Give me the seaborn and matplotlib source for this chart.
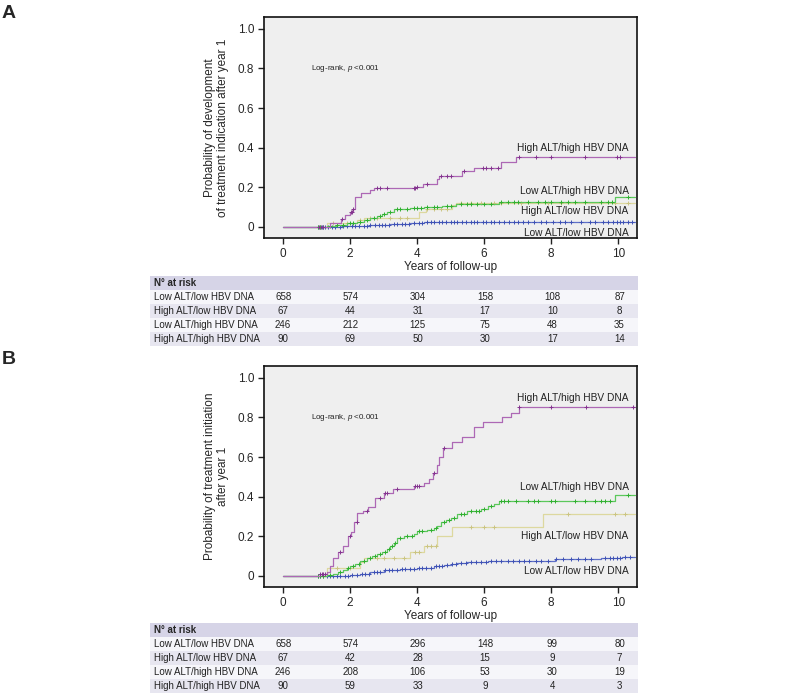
import numpy as np
import pandas as pd
import seaborn as sns
import matplotlib.pyplot as plt

# グループ名
groups = ["Low ALT/low HBV DNA", "High ALT/low HBV DNA", "Low ALT/high HBV DNA", "High ALT/high HBV DNA"]
risk_years = [0, 2, 4, 6, 8, 10]

# パネルA: 治療適応の発生
a_t_ll = [0, 1.2, 1.5, 1.8, 2.0, 2.3, 2.6, 2.9, 3.2, 3.5, 3.8, 4.0, 4.2]
a_y_ll = [0, 0.001, 0.002, 0.003, 0.004, 0.007, 0.010, 0.012, 0.014, 0.016, 0.018, 0.021, 0.024]
a_c_ll = [1.05, 1.1, 1.15, 1.25, 1.35, 1.45, 1.55, 1.7, 1.8, 1.9, 2.05, 2.15, 2.25, 2.4, 2.5, 2.6, 2.75,
          2.85, 2.95, 3.05, 3.15, 3.3, 3.4, 3.55, 3.65, 3.75, 3.9, 4.05, 4.15, 4.3, 4.4, 4.5, 4.65, 4.75,
          4.85, 5.0, 5.1, 5.2, 5.35, 5.45, 5.6, 5.7, 5.8, 5.95, 6.05, 6.2, 6.3, 6.45, 6.6, 6.75, 6.9,
          7.0, 7.15, 7.3, 7.5, 7.7, 7.85, 8.05, 8.25, 8.4, 8.6, 8.9, 9.15, 9.3, 9.55, 9.7, 9.85, 9.95,
          10.05, 10.15, 10.3, 10.4]
a_t_hl = [0, 1.3, 2.2, 2.4, 4.06, 4.26, 5.05, 5.15]
a_y_hl = [0, 0.019, 0.035, 0.045, 0.075, 0.088, 0.110, 0.123]
a_c_hl = [1.1, 1.5, 1.9, 2.3, 2.6, 2.8, 3.2, 3.5, 3.7, 4.3, 4.5, 4.7, 4.9, 5.3, 5.6, 5.9, 6.3, 6.5,
          7.1, 7.9, 8.3, 9.9, 10.3]
a_t_lh = [0, 1.3, 1.6, 1.9, 2.2, 2.4, 2.6, 2.8, 2.95, 3.1, 3.3, 3.8, 4.2, 4.75, 5.15, 6.45, 9.9]
a_y_lh = [0, 0.005, 0.010, 0.018, 0.027, 0.035, 0.045, 0.055, 0.065, 0.077, 0.090, 0.095, 0.099,
          0.105, 0.116, 0.127, 0.153]
a_c_lh = [1.05, 1.1, 1.2, 1.4, 1.6, 1.8, 2.0, 2.1, 2.3, 2.5, 2.7, 2.9, 3.0, 3.2, 3.4, 3.5, 3.7, 3.9,
          4.0, 4.1, 4.3, 4.5, 4.6, 4.9, 5.0, 5.3, 5.5, 5.6, 5.8, 6.0, 6.2, 6.5, 6.7, 6.9, 7.0, 7.3,
          7.6, 7.8, 8.0, 8.3, 8.5, 8.7, 9.0, 9.5, 9.7, 9.8, 10.3]
a_t_hh = [0, 1.4, 1.73, 1.85, 2.0, 2.08, 2.15, 2.33, 2.58, 2.72, 3.96, 4.16, 4.6, 4.66, 5.35, 5.7, 6.5, 6.94]
a_y_hh = [0, 0.020, 0.040, 0.060, 0.075, 0.090, 0.150, 0.170, 0.185, 0.195, 0.200, 0.215, 0.240,
          0.255, 0.280, 0.300, 0.330, 0.355]
a_c_hh = [1.08, 1.12, 1.18, 1.75, 2.02, 2.06, 2.1, 2.8, 2.9, 3.1, 3.9, 3.95, 4.0, 4.3, 4.7, 4.9, 5.0,
          5.4, 5.95, 6.05, 6.2, 6.4, 7.05, 7.55, 8.0, 9.0, 9.95, 10.05]
a_risk = [[658, 574, 304, 158, 108, 87],
          [67, 44, 31, 17, 10, 8],
          [246, 212, 125, 75, 48, 35],
          [90, 69, 50, 30, 17, 14]]

# パネルB: 治療開始
b_t_ll = [0, 1.5, 2.0, 2.3, 2.6, 3.0, 3.5, 4.0, 4.5, 4.8, 5.0, 5.2, 5.5, 6.1, 6.3, 8.1, 9.5, 10.1]
b_y_ll = [0, 0.002, 0.005, 0.010, 0.020, 0.028, 0.035, 0.040, 0.048, 0.055, 0.060, 0.065, 0.070,
          0.074, 0.077, 0.084, 0.090, 0.096]
b_c_ll = [1.05, 1.1, 1.2, 1.3, 1.4, 1.5, 1.6, 1.7, 1.85, 1.95, 2.05, 2.2, 2.35, 2.45, 2.55, 2.7, 2.8,
          2.9, 3.05, 3.15, 3.25, 3.4, 3.55, 3.65, 3.8, 3.9, 4.05, 4.15, 4.25, 4.4, 4.55, 4.65, 4.75,
          4.9, 5.05, 5.15, 5.3, 5.45, 5.6, 5.75, 5.9, 6.05, 6.2, 6.35, 6.5, 6.7, 6.85, 7.05, 7.2, 7.35,
          7.55, 7.7, 7.9, 8.15, 8.35, 8.6, 8.8, 9.0, 9.2, 9.6, 9.75, 9.85, 9.95, 10.05, 10.2, 10.35]
b_t_hl = [0, 1.3, 2.3, 2.4, 3.8, 4.2, 4.6, 5.05, 7.75]
b_y_hl = [0, 0.040, 0.070, 0.090, 0.123, 0.153, 0.200, 0.245, 0.315]
b_c_hl = [1.2, 1.6, 2.0, 2.6, 2.8, 3.0, 3.3, 3.6, 3.95, 4.05, 4.3, 4.4, 4.55, 5.6, 6.0, 6.3, 8.5,
          9.9, 10.2]
b_t_lh = [0, 1.3, 1.5, 1.65, 1.8, 1.9, 2.0, 2.15, 2.3, 2.5, 2.65, 2.8, 2.95, 3.1, 3.2, 3.3, 3.4, 3.6,
          3.9, 4.0, 4.3, 4.5, 4.6, 4.7, 4.85, 5.0, 5.2, 5.5, 5.9, 6.1, 6.3, 6.45, 9.9]
b_y_lh = [0, 0.005, 0.012, 0.020, 0.030, 0.040, 0.050, 0.060, 0.075, 0.090, 0.100, 0.110, 0.120,
          0.135, 0.150, 0.165, 0.190, 0.203, 0.210, 0.225, 0.230, 0.240, 0.250, 0.270, 0.280, 0.290,
          0.315, 0.330, 0.340, 0.355, 0.365, 0.377, 0.410]
b_c_lh = [1.05, 1.1, 1.2, 1.4, 1.7, 1.95, 2.1, 2.25, 2.4, 2.6, 2.75, 2.9, 3.05, 3.15, 3.25, 3.35, 3.5,
          3.7, 3.85, 4.05, 4.15, 4.4, 4.55, 4.8, 4.95, 5.1, 5.3, 5.4, 5.6, 5.75, 5.85, 6.0, 6.2, 6.5,
          6.6, 6.7, 6.95, 7.3, 7.5, 7.6, 8.0, 8.1, 8.7, 9.0, 9.3, 9.5, 9.6, 9.75, 10.3]
b_t_hh = [0, 1.1, 1.3, 1.39, 1.49, 1.63, 1.78, 1.93, 2.03, 2.13, 2.21, 2.38, 2.53, 2.73, 3.02, 3.27,
          3.9, 4.2, 4.36, 4.46, 4.6, 4.66, 4.76, 5.05, 5.35, 5.7, 5.95, 6.54, 6.79, 7.04]
b_y_hh = [0, 0.010, 0.020, 0.050, 0.090, 0.120, 0.150, 0.200, 0.220, 0.270, 0.320, 0.330, 0.350,
          0.395, 0.420, 0.440, 0.455, 0.470, 0.490, 0.520, 0.560, 0.600, 0.645, 0.675, 0.700, 0.750,
          0.775, 0.800, 0.825, 0.853]
b_c_hh = [1.1, 1.15, 1.2, 1.25, 1.7, 2.0, 2.2, 2.5, 2.9, 3.05, 3.1, 3.4, 3.95, 4.0, 4.05, 4.5, 4.8,
          7.05, 8.0, 9.05, 10.45]
b_risk = [[658, 574, 296, 148, 99, 80],
          [67, 42, 28, 15, 9, 7],
          [246, 208, 106, 53, 30, 19],
          [90, 59, 33, 9, 4, 3]]

line_cols = ["#5f70c8", "#ddd89f", "#5cc85c", "#ad68b5"]
mark_cols = ["#3f52b5", "#cbc482", "#30b030", "#84348f"]
draw_order = [1, 2, 0, 3]

sns.set_theme(style="white")
plt.rcParams['font.family'] = ['Liberation Sans', 'DejaVu Sans']
plt.rcParams['mathtext.fontset'] = 'custom'
plt.rcParams['mathtext.rm'] = 'Liberation Sans'
plt.rcParams['mathtext.it'] = 'Liberation Sans:italic'

W, H = 787, 697
fig = plt.figure(figsize=(W / 100, H / 100), dpi=100)


def px_axes(left, top, right, bottom):
    return fig.add_axes([left / W, 1 - bottom / H, (right - left) / W, (bottom - top) / H])


XMIN, XMAX = -0.57, 10.56


def km_panel(ax, curves, ylabel, label_pos):
    ax.set_facecolor("#efefef")
    for i in draw_order:
        t, y, c = curves[i]
        tt = list(t) + [10.5]
        yy = list(y) + [y[-1]]
        sns.lineplot(x=tt, y=yy, ax=ax, drawstyle="steps-post", color=line_cols[i], lw=0.9,
                     estimator=None, sort=False, zorder=2 + i)
        idx = np.searchsorted(t, c, side="right") - 1
        cy = np.array(y)[idx]
        sns.scatterplot(x=c, y=cy, ax=ax, marker="+", color=mark_cols[i], s=10, linewidth=0.7,
                        zorder=3 + i)
    ax.set_xlim(XMIN, XMAX)
    ax.set_ylim(-0.056, 1.06)
    ax.set_xticks(risk_years)
    ax.set_xticklabels([str(v) for v in risk_years])
    ax.set_yticks([0, 0.2, 0.4, 0.6, 0.8, 1.0])
    ax.set_yticklabels(["0", "0.2", "0.4", "0.6", "0.8", "1.0"])
    ax.tick_params(direction="out", length=4, width=1, labelsize=8.5, pad=3,
                   left=True, bottom=True, color="#222222")
    for s in ax.spines.values():
        s.set_color("#111111")
        s.set_linewidth(1.2)
    ax.set_xlabel("Years of follow-up", fontsize=8.5, labelpad=1)
    ax.set_ylabel(ylabel, fontsize=8.5, labelpad=6)
    ax.text(0.82, 0.80, "Log-rank, $\\it{p}$ <0.001", fontsize=5.8, va="center", ha="left",
            color="#222222")
    for g, yl in zip(groups, label_pos):
        ax.text(10.31, yl, g, fontsize=7.3, ha="right", va="center", color="#222222")


def risk_table(ax, risk):
    ax.set_xlim(-3.96, 10.55)
    ax.set_ylim(5, 0)
    ax.axis("off")
    ax.axhspan(0, 1, color="#d6d4e7", lw=0)
    row_cols = ["#f6f6fa", "#e7e6f0", "#f6f6fa", "#e7e6f0"]
    for r in range(4):
        ax.axhspan(r + 1, r + 2, color=row_cols[r], lw=0)
    ax.text(-3.84, 0.5, "N° at risk", fontsize=7, fontweight="bold", va="center", ha="left")
    for r, g in enumerate(groups):
        ax.text(-3.84, r + 1.5, g, fontsize=7, va="center", ha="left", color="#222222")
        for x, v in zip(risk_years, risk[r]):
            ax.text(x, r + 1.5, str(v), fontsize=7, va="center", ha="center", color="#222222")


ax_a = px_axes(264, 17, 637, 238)
km_panel(ax_a,
         [(a_t_ll, a_y_ll, a_c_ll), (a_t_hl, a_y_hl, a_c_hl), (a_t_lh, a_y_lh, a_c_lh), (a_t_hh, a_y_hh, a_c_hh)],
         "Probability of development\nof treatment indication after year 1",
         [-0.03, 0.08, 0.18, 0.40])
tab_a = px_axes(150, 276, 638, 346)
risk_table(tab_a, a_risk)

ax_b = px_axes(264, 366, 637, 587)
km_panel(ax_b,
         [(b_t_ll, b_y_ll, b_c_ll), (b_t_hl, b_y_hl, b_c_hl), (b_t_lh, b_y_lh, b_c_lh), (b_t_hh, b_y_hh, b_c_hh)],
         "Probability of treatment initiation\nafter year 1",
         [0.027, 0.20, 0.45, 0.90])
tab_b = px_axes(150, 623, 638, 693)
risk_table(tab_b, b_risk)

fig.text(2 / W, 1 - 13 / H, "A", fontsize=14, fontweight="bold", va="center", ha="left")
fig.text(2 / W, 1 - 360 / H, "B", fontsize=14, fontweight="bold", va="center", ha="left")

plt.savefig("out.png", dpi=100)
plt.close()
